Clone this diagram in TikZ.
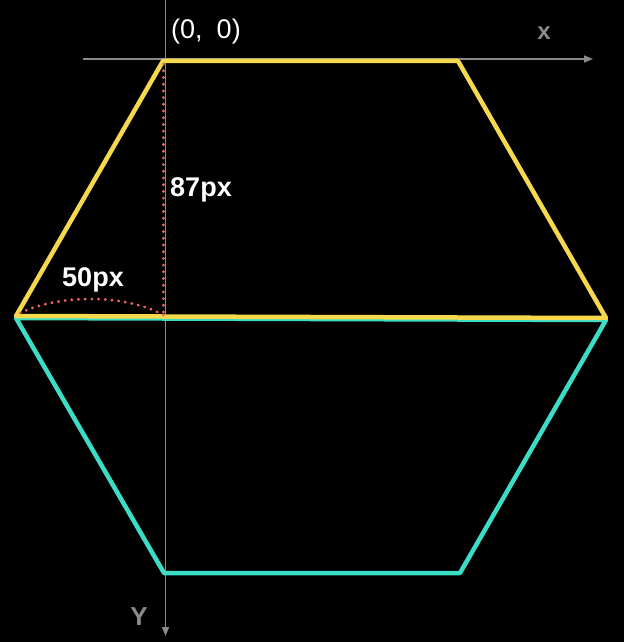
\documentclass[tikz,border=0pt]{standalone}
\usepackage{fontspec}
\setmainfont{Liberation Sans}
\usepackage{xcolor}
\usetikzlibrary{arrows.meta, positioning, calc}

\definecolor{hexyellow}{HTML}{F6D84C}
\definecolor{hexteal}{HTML}{3CDDC6}
\definecolor{axisgray}{HTML}{8A8A8A}
\definecolor{dotred}{HTML}{EE6660}

\begin{document}
\begin{tikzpicture}[x=1pt, y=-1pt,
  axis/.style={draw=axisgray, line width=1.5pt, -{Triangle[length=9pt, width=7pt]}},
  edge/.style={line width=4.5pt, line join=round, line cap=round},
  measure/.style={draw=dotred, line width=3pt, line cap=round, dash pattern=on 0.2pt off 6.5pt},
  every node/.style={inner sep=0pt, text=white}]
\fill[black] (0,0) rectangle (624,642);
\useasboundingbox (0,0) rectangle (624,642);

% vertices
\coordinate (ytl) at (163,61);
\coordinate (ytr) at (458,61);
\coordinate (yl) at (16,316);
\coordinate (yr) at (606,318);
\coordinate (tl) at (16,318);
\coordinate (tr) at (606,320);
\coordinate (tbl) at (164,573);
\coordinate (tbr) at (460,573);

% axes
\coordinate (xs) at (83,59);
\coordinate (xe) at (593,59);
\coordinate (ys) at (165.5,0);
\coordinate (ye) at (165.5,636);
\draw[axis] (xs) -- (xe);
\draw[axis] (ys) -- (ye);

% lower half
\draw[edge, hexteal] (tl) -- (tbl) -- (tbr) -- (tr) -- cycle;
% upper half
\draw[edge, hexyellow] (yl) -- (ytl) -- (ytr) -- (yr) -- cycle;

% measures
\coordinate (top) at (163.5,64);
\coordinate (foot) at (163.5,315);
\coordinate (arcs) at (20,313);
\draw[measure] (top) -- (foot);
\draw[measure] (arcs) .. controls (60,294) and (125,294) .. (foot);

% labels
\node (origin) at (206,32) {\fontsize{27}{27}\selectfont (0,\hspace{14pt}0)};
\node (xlab) at (544,33) {\fontsize{24}{24}\selectfont\bfseries\textcolor{axisgray}{x}};
\node (ylab) at (139,617) {\fontsize{26}{26}\selectfont\bfseries\textcolor{axisgray}{Y}};
\node (height) at (201,190) {\fontsize{27}{27}\selectfont\bfseries 87px};
\node (width) at (93,280) {\fontsize{27}{27}\selectfont\bfseries 50px};
\end{tikzpicture}
\end{document}
